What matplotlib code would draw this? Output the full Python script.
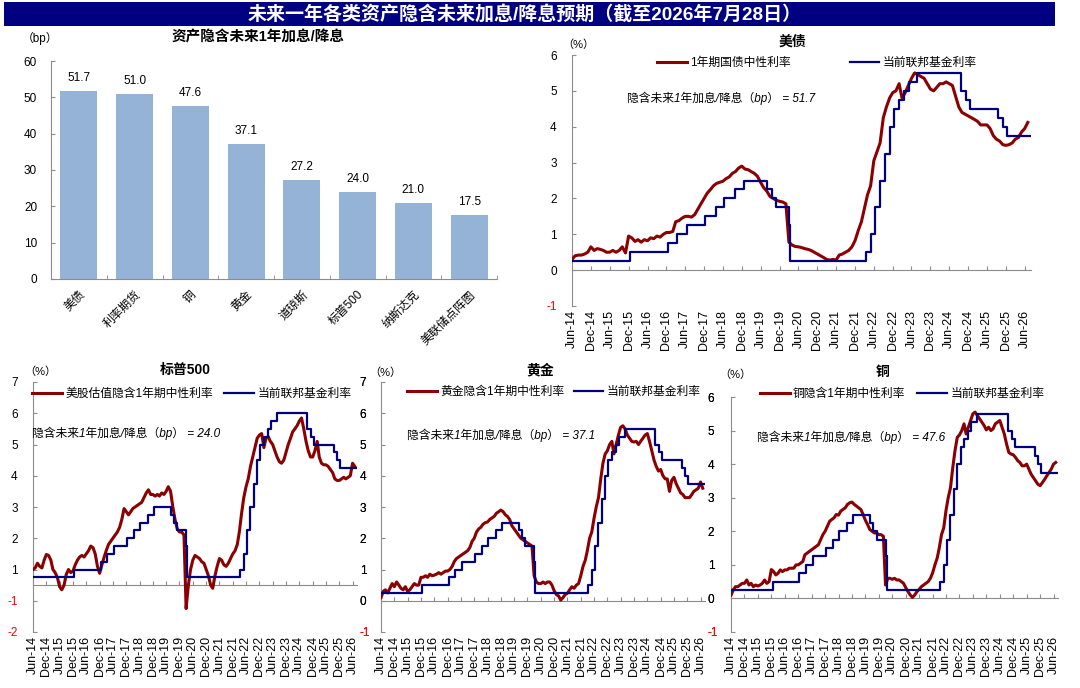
import matplotlib
matplotlib.use('Agg')
import matplotlib.pyplot as plt
import matplotlib.dates as mdates
from matplotlib.patches import Rectangle
import numpy as np
import pandas as pd

plt.rcParams['font.family'] = ['Liberation Sans', 'Noto Sans CJK SC']
plt.rcParams['axes.unicode_minus'] = False

# ---------------- data ----------------
TITLE = '未来一年各类资产隐含未来加息/降息预期（截至2026年7月28日）'
BAR_TITLE = '资产隐含未来1年加息/降息'
BAR_CATS = ['美债', '利率期货', '铜', '黄金', '道琼斯', '标普500', '纳斯达克', '美联储点阵图']
BAR_VALS = [51.7, 51.0, 47.6, 37.1, 27.2, 24.0, 21.0, 17.5]

SERIES_START = '2014-06-01'   # monthly values, Jun-2014 .. Jul-2026

US_1Y = [
    0.30, 0.40, 0.42, 0.42, 0.45, 0.50, 0.65,
    0.55, 0.60, 0.58, 0.55, 0.50, 0.50, 0.55, 0.50, 0.55, 0.65, 0.48, 0.95,
    0.90, 0.80, 0.85, 0.78, 0.85, 0.82, 0.90, 0.88, 0.95, 0.92, 1.00, 1.05,
    1.05, 1.08, 1.35, 1.38, 1.45, 1.50, 1.50, 1.48, 1.55, 1.70, 1.85, 2.00,
    2.15, 2.25, 2.35, 2.42, 2.45, 2.48, 2.55, 2.60, 2.70, 2.75, 2.85, 2.90,
    2.82, 2.80, 2.75, 2.70, 2.62, 2.45, 2.30, 2.20, 2.05, 2.00, 1.95, 1.92,
    1.90, 1.85, 0.78, 0.70, 0.66, 0.65, 0.63, 0.60, 0.58, 0.55, 0.50, 0.45,
    0.40, 0.35, 0.30, 0.28, 0.30, 0.28, 0.42, 0.45, 0.50, 0.55, 0.65, 0.82,
    1.10, 1.35, 1.70, 2.10, 2.35, 3.05, 3.30, 3.55, 4.25, 4.55, 4.80, 4.95,
    5.00, 5.20, 4.80, 4.95, 5.15, 5.35, 5.50, 5.45, 5.40, 5.35, 5.20, 5.05,
    5.00, 5.10, 5.20, 5.20, 5.25, 5.20, 5.15, 4.85, 4.55, 4.40, 4.35, 4.30,
    4.25, 4.20, 4.15, 4.05, 4.05, 4.05, 3.95, 3.75, 3.65, 3.60, 3.50, 3.48,
    3.50, 3.55, 3.65, 3.70, 3.85, 3.95, 4.12]

SPX_IMPLIED = [
    1.00, 1.05, 1.20, 1.10, 1.05, 1.30, 1.48,
    1.45, 1.30, 1.00, 0.90, 0.75, 0.45, 0.35, 0.50, 0.85, 1.00, 0.90, 0.95,
    1.15, 1.30, 1.40, 1.45, 1.40, 1.50, 1.60, 1.75, 1.70, 1.50, 1.10, 0.88,
    1.15, 1.40, 1.60, 1.80, 1.90, 2.00, 2.10, 2.20, 2.35, 2.60, 2.95, 2.85,
    2.75, 2.85, 2.95, 3.00, 3.05, 3.10, 3.15, 3.30, 3.45, 3.55, 3.40, 3.40,
    3.35, 3.40, 3.35, 3.45, 3.40, 3.50, 3.65, 3.50, 3.00, 2.60, 2.30, 2.20,
    2.20, 2.10, -0.25, 0.50, 1.00, 1.30, 1.45, 1.40, 1.35, 1.25, 1.20, 1.00,
    0.80, 0.50, 0.40, 0.80, 1.10, 1.35, 1.30, 1.15, 1.10, 1.20, 1.35, 1.50,
    1.60, 1.80, 2.20, 2.80, 3.30, 3.65, 3.90, 4.30, 4.60, 4.90, 5.20, 5.30,
    5.35, 4.90, 5.20, 5.25, 5.10, 5.00, 4.80, 4.60, 4.45, 4.40, 4.50, 4.75,
    5.00, 5.20, 5.40, 5.50, 5.60, 5.75, 5.85, 5.50, 5.10, 4.80, 4.60, 4.60,
    4.80, 5.10, 4.60, 4.40, 4.35, 4.35, 4.30, 4.20, 4.10, 3.90, 3.85, 3.85,
    3.90, 3.95, 3.90, 3.95, 4.00, 4.40, 4.30]

GOLD_IMPLIED = [
    0.10, 0.30, 0.35, 0.25, 0.40, 0.55, 0.45,
    0.60, 0.50, 0.40, 0.35, 0.45, 0.30, 0.35, 0.45, 0.55, 0.50, 0.50, 0.75,
    0.75, 0.80, 0.75, 0.85, 0.80, 0.82, 0.85, 0.90, 0.85, 0.90, 0.95, 0.95,
    1.00, 1.10, 1.25, 1.35, 1.40, 1.45, 1.50, 1.55, 1.60, 1.70, 1.90, 2.00,
    2.20, 2.30, 2.35, 2.45, 2.50, 2.52, 2.60, 2.65, 2.70, 2.80, 2.85, 2.90,
    2.85, 2.75, 2.70, 2.60, 2.40, 2.30, 2.20, 2.10, 2.00, 1.95, 1.90, 1.85,
    1.80, 1.75, 0.80, 0.60, 0.55, 0.55, 0.60, 0.55, 0.60, 0.60, 0.50, 0.32,
    0.20, 0.15, 0.02, 0.10, 0.20, 0.24, 0.35, 0.45, 0.40, 0.50, 0.55, 0.80,
    1.10, 1.30, 1.60, 2.00, 2.20, 2.64, 3.00, 3.30, 3.90, 4.40, 4.70, 4.80,
    5.00, 5.10, 4.70, 5.00, 5.30, 5.55, 5.60, 5.50, 5.30, 5.20, 5.10, 5.08,
    5.10, 5.00, 5.10, 5.20, 5.30, 5.35, 5.10, 4.80, 4.50, 4.30, 4.15, 4.20,
    4.00, 3.90, 3.90, 3.50, 3.85, 3.95, 3.75, 3.60, 3.45, 3.40, 3.30, 3.30,
    3.30, 3.40, 3.50, 3.55, 3.60, 3.80, 3.60]

COPPER_IMPLIED = [
    0.10, 0.25, 0.35, 0.35, 0.40, 0.45, 0.45,
    0.55, 0.40, 0.45, 0.35, 0.40, 0.37, 0.40, 0.45, 0.55, 0.45, 0.50, 0.86,
    0.80, 0.70, 0.75, 0.85, 0.80, 0.85, 0.85, 0.90, 0.90, 0.90, 1.00, 1.00,
    1.05, 1.10, 1.30, 1.35, 1.40, 1.45, 1.50, 1.55, 1.60, 1.75, 1.90, 2.00,
    2.15, 2.30, 2.35, 2.40, 2.50, 2.48, 2.60, 2.65, 2.70, 2.80, 2.85, 2.87,
    2.80, 2.75, 2.70, 2.65, 2.50, 2.33, 2.20, 2.05, 2.00, 1.95, 1.95, 1.90,
    1.90, 1.85, 0.40, 0.60, 0.60, 0.57, 0.60, 0.55, 0.55, 0.50, 0.45, 0.32,
    0.20, 0.10, 0.03, 0.10, 0.20, 0.27, 0.35, 0.40, 0.45, 0.50, 0.60, 0.76,
    1.00, 1.20, 1.50, 1.90, 2.10, 2.62, 3.00, 3.30, 3.90, 4.40, 4.80, 4.87,
    5.00, 5.20, 4.90, 5.10, 5.30, 5.50, 5.55, 5.45, 5.35, 5.25, 5.15, 5.02,
    5.10, 5.00, 5.05, 5.20, 5.25, 5.30, 5.10, 4.90, 4.60, 4.35, 4.30, 4.28,
    4.20, 4.10, 4.05, 3.95, 3.95, 4.00, 3.85, 3.70, 3.60, 3.50, 3.40, 3.36,
    3.45, 3.55, 3.65, 3.75, 3.85, 4.00, 4.05]

FED_LABEL = '当前联邦基金利率'
FED_DATES = ['2014-06-01', '2015-12-17', '2016-12-15', '2017-03-16', '2017-06-15',
             '2017-12-14', '2018-03-22', '2018-06-14', '2018-09-27', '2018-12-20',
             '2019-08-01', '2019-09-19', '2019-10-31', '2020-03-04', '2020-03-16',
             '2022-03-17', '2022-05-05', '2022-06-16', '2022-07-28', '2022-09-22',
             '2022-11-03', '2022-12-15', '2023-02-02', '2023-03-23', '2023-05-04',
             '2023-07-27', '2024-09-19', '2024-11-08', '2024-12-19', '2025-09-18',
             '2025-10-30', '2025-12-11', '2026-07-28']
FED_LEVELS = [0.25, 0.50, 0.75, 1.00, 1.25, 1.50, 1.75, 2.00, 2.25, 2.50,
              2.25, 2.00, 1.75, 1.25, 0.25,
              0.50, 1.00, 1.75, 2.50, 3.25, 4.00, 4.50, 4.75, 5.00, 5.25, 5.50,
              5.00, 4.75, 4.50, 4.25, 4.00, 3.75, 3.75]

NOTE_FMT = '隐含未来1年加息/降息（bp） = {:.1f}'

# ---------------- style ----------------
RED = '#8B0000'
BLUE = '#000080'
GRAY = '#8C8C8C'
NEG = '#FF0000'
BARC = '#95B3D7'
SPX_DISPLAY_SHIFT = 0.5   # S&P panel draws the fed line offset on its own scale

W, H = 1080, 688
PX = 100 / 72.0   # pixels per point
fig = plt.figure(figsize=(W / 100, H / 100), dpi=100)


def fx(x):
    return x / W


def fy(y):
    return 1 - y / H


def rect(x0, y0, x1, y1):
    return [fx(x0), fy(y1), (x1 - x0) / W, (y1 - y0) / H]


# title bar
fig.patches.append(Rectangle((fx(4), fy(26)), (1055 - 4) / W, 24 / H,
                             transform=fig.transFigure, facecolor='#000080',
                             edgecolor='none'))
fig.text(fx(525), fy(14), TITLE, color='white', fontsize=13.7, fontweight='bold',
         ha='center', va='center')

# ---------------- bar chart ----------------
axb = fig.add_axes(rect(51, 61, 497, 279))
xb = np.arange(len(BAR_CATS))
bars = axb.bar(xb, BAR_VALS, width=0.66, color=BARC, zorder=2)
for b, v in zip(bars, BAR_VALS):
    axb.annotate(f'{v:.1f}', (b.get_x() + b.get_width() / 2, v), xytext=(0, 5),
                 textcoords='offset points', ha='center', va='bottom', fontsize=8.5)
axb.set_xlim(-0.5, len(BAR_CATS) - 0.5)
axb.set_ylim(0, 60)
axb.set_yticks(range(0, 61, 10))
axb.set_xticks(xb)
axb.set_xticklabels(BAR_CATS, rotation=45, ha='right', va='top',
                    rotation_mode='anchor', fontsize=8.5)
axb.set_xticks(np.arange(-0.5, len(BAR_CATS)), minor=True)
axb.tick_params(axis='x', which='major', length=0, pad=7)
axb.tick_params(axis='x', which='minor', length=3, direction='in', color=GRAY)
axb.tick_params(axis='y', length=3, direction='in', color=GRAY, labelsize=8.5, pad=10)
for s in ('top', 'right'):
    axb.spines[s].set_visible(False)
for s in ('left', 'bottom'):
    axb.spines[s].set_color(GRAY)
fig.text(fx(258), fy(37), BAR_TITLE, fontsize=10.5, fontweight='bold',
         ha='center', va='center')
fig.text(fx(22), fy(38), '（bp）', fontsize=8.5, ha='left', va='center')

# ---------------- line panels ----------------
RED_DATES = pd.date_range(SERIES_START, periods=len(US_1Y), freq='MS')
FED_X = pd.to_datetime(FED_DATES)
XMIN = pd.Timestamp('2014-06-01')
XMAX = pd.Timestamp('2026-08-01')


def color_neg(labels):
    for t in labels:
        if t.get_text().startswith('-'):
            t.set_color(NEG)


def line_panel(box, red_vals, red_label, fed_shift, ylim, yticks, ylabels,
               zero_level, title, title_xy, pct_xy, leg_xy, colspace, note, note_xy,
               label_left_x=None):
    ax = fig.add_axes(rect(*box))
    ax.plot(RED_DATES, red_vals, color=RED, lw=2.2, label=red_label, zorder=3)
    ax.step(FED_X, np.asarray(FED_LEVELS) + fed_shift, where='post', color=BLUE,
            lw=1.6, label=FED_LABEL, zorder=4)
    ax.set_xlim(XMIN, XMAX)
    ax.set_ylim(*ylim)
    ax.set_yticks(yticks)
    ax.set_yticklabels(ylabels)
    color_neg(ax.get_yticklabels())
    for s in ('top', 'right'):
        ax.spines[s].set_visible(False)
    ax.spines['left'].set_color(GRAY)
    ax.spines['bottom'].set_color(GRAY)
    ax.spines['bottom'].set_position(('data', zero_level))
    ax.xaxis.set_major_locator(mdates.MonthLocator(bymonth=(6, 12)))
    ax.tick_params(axis='x', direction='in', length=3, color=GRAY, labelbottom=False)
    if label_left_x is None:
        ax.tick_params(axis='y', direction='in', length=3, color=GRAY, labelsize=8.5, pad=11)
    else:
        # labels share their spot with the neighbouring panel's right-hand labels
        ax.tick_params(axis='y', direction='in', length=3, color=GRAY, labelsize=8.5,
                       pad=(box[0] - label_left_x) / PX)
        for t in ax.get_yticklabels():
            t.set_horizontalalignment('left')
    sec = ax.secondary_xaxis('bottom')
    sec.xaxis.set_major_locator(mdates.MonthLocator(bymonth=(6, 12)))
    sec.xaxis.set_major_formatter(mdates.DateFormatter('%b-%y'))
    sec.tick_params(length=0, labelsize=9, labelrotation=90, pad=3)
    sec.spines['bottom'].set_visible(False)
    fig.text(fx(title_xy[0]), fy(title_xy[1]), title, fontsize=10, fontweight='bold',
             ha='center', va='center')
    fig.text(fx(pct_xy[0]), fy(pct_xy[1]), '（%）', fontsize=8, ha='left', va='center')
    ax.legend(loc='center left', bbox_to_anchor=(fx(leg_xy[0]), fy(leg_xy[1])),
              bbox_transform=fig.transFigure, ncol=2, frameon=False, fontsize=8.5,
              handlelength=2.5, handletextpad=0.3, columnspacing=colspace,
              borderpad=0, borderaxespad=0)
    fig.text(fx(note_xy[0]), fy(note_xy[1]), note, fontsize=8.5, style='italic',
             ha='left', va='center')
    return ax


def right_axis(ax, ylim, ticks, labels):
    tw = ax.twinx()
    tw.set_ylim(*ylim)
    tw.set_yticks(ticks)
    tw.set_yticklabels(labels)
    color_neg(tw.get_yticklabels())
    for s in tw.spines.values():
        s.set_visible(False)
    tw.tick_params(axis='y', length=0, pad=2, labelsize=8.5)
    return tw


RIGHT_PAD_PX = 2 * PX

# US Treasuries
line_panel((572, 55, 1031, 306), US_1Y, '1年期国债中性利率', 0.0, (-1, 6),
           range(-1, 7), [str(v) for v in range(-1, 7)], 0,
           '美债', (792, 42), (562, 45), (657, 63), 5.0,
           NOTE_FMT.format(BAR_VALS[0]), (627, 98))

# S&P 500
SPX_BOX = (33, 382, 357, 632)
spx_ticks = list(range(-1, 8))
spx_left = ['-2', '-1', '1', '2', '3', '4', '5', '6', '7']
ax_spx = line_panel(SPX_BOX, SPX_IMPLIED, '美股估值隐含1年期中性利率',
                    SPX_DISPLAY_SHIFT, (-1, 7), spx_ticks, spx_left, 0.5,
                    '标普500', (185, 370), (24, 372), (32, 394), 1.0,
                    NOTE_FMT.format(BAR_VALS[5]), (32, 433))
right_axis(ax_spx, (-1, 7), spx_ticks, [str(v) for v in spx_ticks])

# Gold
GOLD_BOX = (381, 382, 705, 632)
COPPER_BOX = (731, 397, 1058, 632)
ax_gold = line_panel(GOLD_BOX, GOLD_IMPLIED, '黄金隐含1年期中性利率', 0.0,
                     (-1, 7), range(-1, 8), [str(v) for v in range(-1, 8)], 0,
                     '黄金', (540, 370), (369, 373), (407, 392), 0.8,
                     NOTE_FMT.format(BAR_VALS[3]), (407, 435),
                     label_left_x=SPX_BOX[2] + RIGHT_PAD_PX)
# right-hand gold scale lines up with the copper panel's scale
copper_px_per_unit = (COPPER_BOX[3] - COPPER_BOX[1]) / 7.0
gold_right_top = -1 + (GOLD_BOX[3] - GOLD_BOX[1]) / copper_px_per_unit
right_axis(ax_gold, (-1, gold_right_top), range(-1, 7), [str(v) for v in range(-1, 7)])

# Copper
line_panel(COPPER_BOX, COPPER_IMPLIED, '铜隐含1年期中性利率', 0.0,
           (-1, 6), range(-1, 7), [str(v) for v in range(-1, 7)], 0,
           '铜', (883, 372), (719, 375), (760, 394), 1.0,
           NOTE_FMT.format(BAR_VALS[2]), (757, 437),
           label_left_x=GOLD_BOX[2] + RIGHT_PAD_PX)

fig.savefig('out.png', dpi=100)
